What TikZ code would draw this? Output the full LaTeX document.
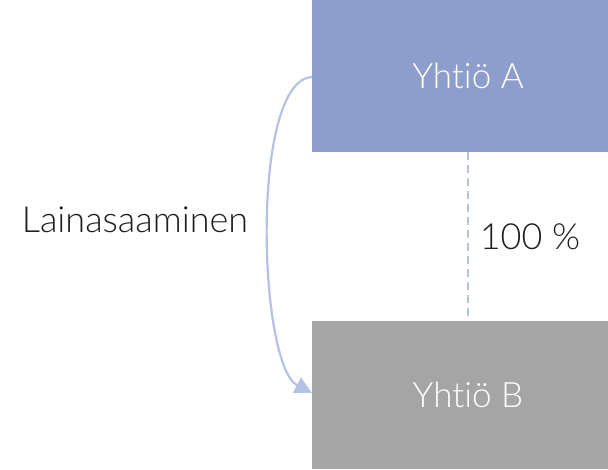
\documentclass[tikz,border=0pt]{standalone}
\usepackage{fontspec}
\setmainfont{Lato}[UprightFont=* Light, Ligatures=NoCommon, Contextuals=NoAlternate]
\usetikzlibrary{arrows.meta}
\definecolor{boxA}{HTML}{8E9ECC}
\definecolor{boxB}{HTML}{A5A5A5}
\definecolor{link}{HTML}{B4C2E6}
\definecolor{txt}{HTML}{1E1E1E}
\tikzset{
  company/.style={draw=none, minimum width=312pt, minimum height=152pt, inner sep=0pt,
    text=white, font=\fontsize{35}{42}\selectfont},
  label/.style={text=txt, font=\fontsize{36}{43}\selectfont, inner sep=0pt},
}
\begin{document}
\begin{tikzpicture}[x=1pt,y=-1pt]
\useasboundingbox (0,0) rectangle (608,469);
\begin{scope}
\clip (0,0) rectangle (608,469);
\node[company, fill=boxA] (A) at (468,76) {Yhtiö A};
\node[company, fill=boxB, minimum height=148pt] (B) at (468,395) {Yhtiö B};
\end{scope}
\coordinate (As) at (312,77);
\coordinate (Be) at (312,393);
\draw[link, line width=2.2pt, dash pattern=on 8pt off 5pt] (A.south) -- (B.north);
\draw[link, line width=2.2pt, -{Triangle[length=17pt,width=17pt]}]
  (As) .. controls (250,80) and (258,365) .. (Be);
\node[label] (L) at (135,220) {Lainasaaminen};
\node[label] (P) at (530,237) {100 \%};
\end{tikzpicture}
\end{document}
